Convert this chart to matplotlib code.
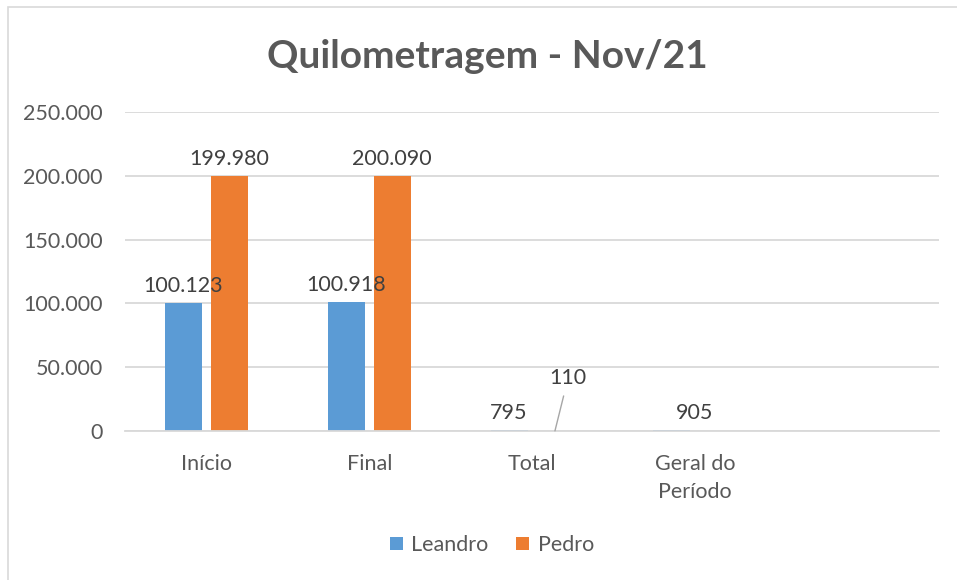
import matplotlib
matplotlib.use("Agg")
import matplotlib.pyplot as plt
from matplotlib.patches import Rectangle
from matplotlib.ticker import FuncFormatter

categories = ["Início", "Final", "Total", "Geral do\nPeríodo", ""]
leandro = [100123, 100918, 795, 905, None]
pedro = [199980, 200090, 110, None, None]
series_names = ["Leandro", "Pedro"]
title = "Quilometragem - Nov/21"
yticks = [0, 50000, 100000, 150000, 200000, 250000]

BLUE = "#5B9BD5"
ORANGE = "#ED7D31"
TXT = "#595959"
GRID = "#D9D9D9"
FONT = ["Lato", "DejaVu Sans"]

plt.rcParams["font.family"] = FONT

def fmt(v):
    return f"{int(v):,}".replace(",", ".")

fig = plt.figure(figsize=(9.57, 5.8), dpi=100)
# outer chart border
fig.patches.append(Rectangle((8 / 957, -0.1), 1.2, 1 - 7 / 580 + 0.1, transform=fig.transFigure,
                             fill=False, edgecolor="#D9D9D9", linewidth=1.2))

ax = fig.add_axes([125 / 957, 1 - 431 / 580, 814 / 957, 319 / 580])
x = list(range(len(categories)))
bw = 0.227
off = 0.141
lx = [i - off for i, v in zip(x, leandro) if v is not None]
lv = [v for v in leandro if v is not None]
px = [i + off for i, v in zip(x, pedro) if v is not None]
pv = [v for v in pedro if v is not None]
ax.bar(lx, lv, width=bw, color=BLUE, label=series_names[0], zorder=2)
ax.bar(px, pv, width=bw, color=ORANGE, label=series_names[1], zorder=2)

lblsize = 15.5
for i, (xx, v) in enumerate(zip(lx, lv)):
    dx = 16 if i == 3 else 0
    ax.annotate(fmt(v), (xx, v), xytext=(dx, 5), textcoords="offset points",
                ha="center", va="bottom", fontsize=lblsize, color="#404040", zorder=4)
for i, (xx, v) in enumerate(zip(px, pv)):
    if i == 2:
        ax.annotate(fmt(v), (xx, v), xytext=(9.5, 31), textcoords="offset points",
                    ha="center", va="bottom", fontsize=lblsize, color="#404040", zorder=4,
                    arrowprops=dict(arrowstyle="-", color="#A6A6A6", lw=1.0,
                                    shrinkA=4, shrinkB=0))
    else:
        ax.annotate(fmt(v), (xx, v), xytext=(0, 5), textcoords="offset points",
                    ha="center", va="bottom", fontsize=lblsize, color="#404040", zorder=4)

ax.set_xlim(-0.5, len(categories) - 0.5)
ax.set_ylim(0, 250000)
ax.set_yticks(yticks)
ax.yaxis.set_major_formatter(FuncFormatter(lambda v, p: fmt(v)))
ax.set_xticks(x)
ax.set_xticklabels(categories, fontsize=15.5, color=TXT, linespacing=1.5)
ax.tick_params(axis="y", length=0, labelsize=15.5, labelcolor=TXT, pad=16)
ax.tick_params(axis="x", length=0, pad=16.5)
ax.grid(axis="y", color=GRID, linewidth=1.3, zorder=0)
for s in ["top", "right", "left"]:
    ax.spines[s].set_visible(False)
ax.spines["bottom"].set_color(GRID)
ax.spines["bottom"].set_linewidth(1.3)
ax.spines["bottom"].set_zorder(3)

fig.text(487 / 957, 1 - 57 / 580, title, ha="center", va="center", fontsize=28,
         fontweight="bold", color=TXT)

leg = fig.legend(loc="center", bbox_to_anchor=(492 / 957, 1 - 545 / 580), ncol=2,
                 frameon=False, fontsize=15.5, handlelength=0.6, handleheight=0.6,
                 handletextpad=0.4, columnspacing=1.3)
for t in leg.get_texts():
    t.set_color(TXT)

fig.savefig("out.png", dpi=100, facecolor="white")
